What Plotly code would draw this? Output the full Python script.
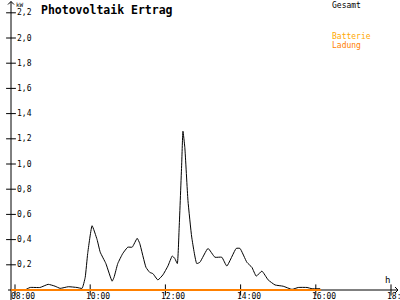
import plotly.graph_objects as go

# ---- data ----
gesamt_times = ["08:16", "08:24", "08:40", "08:53", "09:04", "09:12", "09:25", "09:39", "09:47",
                "09:52", "09:56", "10:03", "10:11", "10:16", "10:25", "10:35", "10:38", "10:44",
                "10:52", "11:00", "11:07", "11:15", "11:19", "11:29", "11:35", "11:40", "11:48",
                "11:56", "12:04", "12:11", "12:15", "12:19", "12:22", "12:26", "12:28", "12:31",
                "12:36", "12:42", "12:50", "12:55", "13:08", "13:19", "13:30", "13:38", "13:53",
                "13:59", "14:10", "14:18", "14:25", "14:34", "14:44", "14:55", "15:08", "15:22",
                "15:32", "15:46", "15:54", "16:07"]
gesamt_kw = [0.00, 0.02, 0.02, 0.045, 0.03, 0.013, 0.026, 0.02, 0.013,
             0.10, 0.29, 0.51, 0.40, 0.30, 0.21, 0.07, 0.10, 0.21,
             0.29, 0.34, 0.34, 0.41, 0.37, 0.18, 0.14, 0.13, 0.08,
             0.12, 0.19, 0.27, 0.25, 0.21, 0.50, 1.00, 1.26, 1.13,
             0.71, 0.42, 0.21, 0.22, 0.33, 0.26, 0.26, 0.19, 0.33,
             0.33, 0.22, 0.18, 0.11, 0.15, 0.08, 0.04, 0.03, 0.005,
             0.02, 0.02, 0.01, 0.01]
ladung_times = ["07:54", "16:08"]
ladung_kw = [0.0, 0.0]

x_tick_hours = [8, 10, 12, 14, 16, 18]
x_tick_labels = ["08:00", "10:00", "12:00", "14:00", "16:00", "18:00"]
y_tick_values = [0.2, 0.4, 0.6, 0.8, 1.0, 1.2, 1.4, 1.6, 1.8, 2.0, 2.2]
y_tick_labels = ["0,2", "0,4", "0,6", "0,8", "1,0", "1,2", "1,4", "1,6", "1,8", "2,0", "2,2"]

title = "Photovoltaik Ertrag"
legend_names = ["Gesamt", "Batterie", "Ladung"]
legend_colors = ["#000000", "#FFA800", "#FF8000"]


def to_hours(t):
    h, m = t.split(":")
    return int(h) + int(m) / 60.0


# ---- geometry (pixel mapping) ----
W, H = 400, 300
PX_PER_H = 37.6
X8_PX = 15
PX_PER_KW = 126.0
Y0_PX = 290
x_min = 8 - X8_PX / PX_PER_H
x_max = x_min + W / PX_PER_H
y_min = -(H - Y0_PX) / PX_PER_KW
y_max = Y0_PX / PX_PER_KW
axis_x = x_min + 11 / PX_PER_H

MONO = "DejaVu Sans Mono"

fig = go.Figure()

# axis lines
fig.add_trace(go.Scatter(x=[axis_x, axis_x], y=[y_min, y_max - 1.5 / PX_PER_KW], mode="lines",
                         line=dict(color="black", width=1), hoverinfo="skip", showlegend=False))
fig.add_trace(go.Scatter(x=[x_min + 8 / PX_PER_H, x_min + 398 / PX_PER_H], y=[0, 0], mode="lines",
                         line=dict(color="black", width=1), hoverinfo="skip", showlegend=False))
# arrowheads (chevrons)
ax_top = y_max - 1.5 / PX_PER_KW
fig.add_trace(go.Scatter(x=[axis_x - 3 / PX_PER_H, axis_x, axis_x + 3 / PX_PER_H],
                         y=[ax_top - 3 / PX_PER_KW, ax_top, ax_top - 3 / PX_PER_KW], mode="lines",
                         line=dict(color="black", width=1), hoverinfo="skip", showlegend=False))
ax_r = x_min + 398 / PX_PER_H
fig.add_trace(go.Scatter(x=[ax_r - 3 / PX_PER_H, ax_r, ax_r - 3 / PX_PER_H],
                         y=[3 / PX_PER_KW, 0, -3 / PX_PER_KW], mode="lines",
                         line=dict(color="black", width=1), hoverinfo="skip", showlegend=False))

# tick marks
fig.add_trace(go.Scatter(x=x_tick_hours, y=[0] * len(x_tick_hours), mode="markers",
                         marker=dict(symbol="line-ns", size=8, line=dict(color="black", width=1)),
                         hoverinfo="skip", showlegend=False))
fig.add_trace(go.Scatter(x=[axis_x] * len(y_tick_values), y=y_tick_values, mode="markers",
                         marker=dict(symbol="line-ew", size=7, line=dict(color="black", width=1)),
                         hoverinfo="skip", showlegend=False))

# data series
fig.add_trace(go.Scatter(x=[to_hours(t) for t in gesamt_times], y=gesamt_kw, mode="lines",
                         line=dict(color=legend_colors[0], width=1, shape="spline", smoothing=0.4),
                         name=legend_names[0], showlegend=False))
fig.add_trace(go.Scatter(x=[to_hours(t) for t in ladung_times], y=ladung_kw, mode="lines",
                         line=dict(color=legend_colors[2], width=2),
                         name=legend_names[2], showlegend=False))

annotations = []
# y tick labels
for v, lab in zip(y_tick_values, y_tick_labels):
    annotations.append(dict(x=axis_x, y=v, xref="x", yref="y", text=lab, showarrow=False,
                            xanchor="left", yanchor="middle", xshift=4,
                            font=dict(family=MONO, size=8, color="black")))
# x tick labels
for hv, lab in zip(x_tick_hours, x_tick_labels):
    annotations.append(dict(x=hv, y=0, xref="x", yref="y", text=lab, showarrow=False,
                            xanchor="left", yanchor="middle", xshift=-6, yshift=-6,
                            font=dict(family=MONO, size=8, color="black")))
# unit labels
annotations.append(dict(x=axis_x, y=y_max, xref="x", yref="y", text="kW", showarrow=False,
                        xanchor="left", yanchor="top", xshift=3, yshift=1,
                        font=dict(family=MONO, size=6, color="black")))
annotations.append(dict(x=18, y=0, xref="x", yref="y", text="h", showarrow=False,
                        xanchor="center", yanchor="bottom", xshift=-4, yshift=3,
                        font=dict(family=MONO, size=9, color="black")))
# title
annotations.append(dict(x=39 / W, y=1 - 1 / H, xref="paper", yref="paper", text="<b>" + title + "</b>",
                        showarrow=False, xanchor="left", yanchor="top",
                        font=dict(family=MONO, size=11.5, color="black")))
# legend texts
legend_y_px = [5, 37, 45]
for name, col, ypx in zip(legend_names, legend_colors, legend_y_px):
    annotations.append(dict(x=330 / W, y=1 - ypx / H, xref="paper", yref="paper", text=name,
                            showarrow=False, xanchor="left", yanchor="middle",
                            font=dict(family=MONO, size=8, color=col)))

fig.update_layout(
    width=W, height=H,
    margin=dict(l=0, r=0, t=0, b=0),
    paper_bgcolor="white", plot_bgcolor="white",
    xaxis=dict(range=[x_min, x_max], visible=False, fixedrange=True),
    yaxis=dict(range=[y_min, y_max], visible=False, fixedrange=True),
    annotations=annotations,
    showlegend=False,
)

fig.write_html("out.html")
